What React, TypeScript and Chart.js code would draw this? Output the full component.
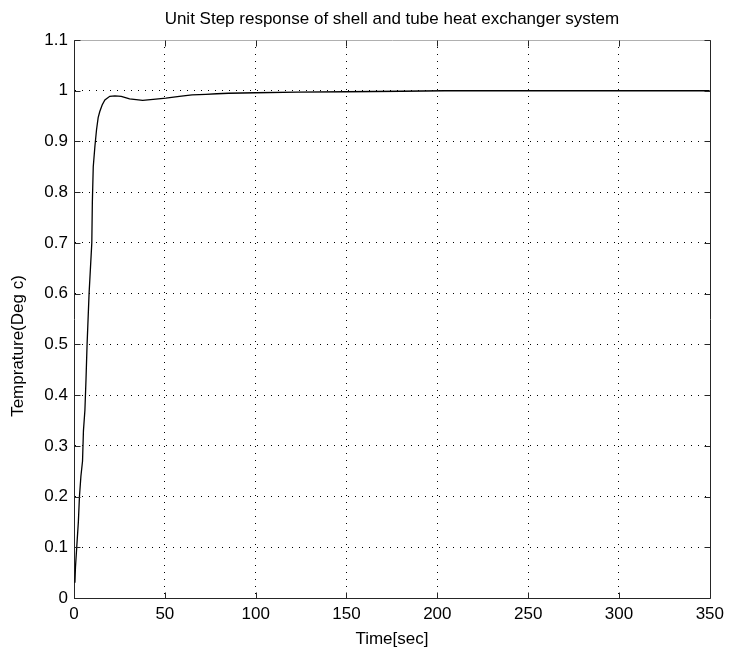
import React, { useEffect, useRef } from 'react';
import { Chart, registerables } from 'chart.js';

Chart.register(...registerables);

const chartTitle = 'Unit Step response of shell and tube heat exchanger system';
const xAxisTitle = 'Time[sec]';
const yAxisTitle = 'Temprature(Deg c)';

const xTickValues = [0, 50, 100, 150, 200, 250, 300, 350];
const xTickLabels = ['0', '50', '100', '150', '200', '250', '300', '350'];
const yTickValues = [0, 0.1, 0.2, 0.3, 0.4, 0.5, 0.6, 0.7, 0.8, 0.9, 1.0, 1.1];
const yTickLabels = ['0', '0.1', '0.2', '0.3', '0.4', '0.5', '0.6', '0.7', '0.8', '0.9', '1', '1.1'];

const timeSec = [
  0.5, 0.8, 1.5, 2.4, 3.0, 3.8, 4.7, 5.2, 6.0, 6.6, 7.2, 8.3, 9.8, 10.1, 10.6, 11.5,
  12.4, 13.3, 14.2, 15.5, 17.0, 19.7, 22.5, 26, 30.6, 37.8, 45, 50.6, 58, 65, 72.5,
  78.6, 85, 100, 123, 150, 180, 204, 350,
];
const temperature = [
  0.03, 0.06, 0.10, 0.15, 0.20, 0.24, 0.27, 0.33, 0.37, 0.43, 0.50, 0.60, 0.70, 0.78, 0.85, 0.89,
  0.923, 0.947, 0.959, 0.972, 0.982, 0.989, 0.990, 0.989, 0.984, 0.981, 0.9836, 0.9855, 0.989, 0.992, 0.993,
  0.994, 0.995, 0.996, 0.9974, 0.998, 0.999, 1.0, 1.0,
];

const FONT = '"Liberation Sans", Arial, Helvetica, sans-serif';
const FONT_SIZE = 17;
const AXIS_COLOR = '#262626';

const framePlugin = {
  id: 'matlabFrame',
  afterDraw(chart: any) {
    const { ctx, chartArea } = chart;
    const { left, right, top, bottom } = chartArea;
    const xs = chart.scales.x;
    const ys = chart.scales.y;
    const a = (v: number) => Math.round(v) + 0.5;
    ctx.save();
    ctx.lineWidth = 1;
    ctx.setLineDash([]);
    ctx.strokeStyle = '#b0b0b0';
    ctx.beginPath();
    ctx.moveTo(a(left), a(top));
    ctx.lineTo(a(right), a(top));
    ctx.stroke();
    ctx.strokeStyle = AXIS_COLOR;
    ctx.beginPath();
    ctx.moveTo(a(right), a(top));
    ctx.lineTo(a(right), a(bottom));
    ctx.stroke();
    const tl = 6;
    ctx.beginPath();
    xTickValues.forEach((v) => {
      const px = a(xs.getPixelForValue(v));
      ctx.moveTo(px, a(bottom));
      ctx.lineTo(px, a(bottom) - tl);
      ctx.moveTo(px, a(top));
      ctx.lineTo(px, a(top) + tl);
    });
    yTickValues.forEach((v) => {
      const py = a(ys.getPixelForValue(v));
      ctx.moveTo(a(left), py);
      ctx.lineTo(a(left) + tl, py);
      ctx.moveTo(a(right), py);
      ctx.lineTo(a(right) - tl, py);
    });
    ctx.stroke();
    ctx.fillStyle = '#000';
    ctx.font = `${FONT_SIZE}px ${FONT}`;
    ctx.textAlign = 'center';
    ctx.textBaseline = 'middle';
    const cx = (left + right) / 2;
    ctx.fillText(chartTitle, cx, 19);
    ctx.fillText(xAxisTitle, cx, 639);
    ctx.translate(18, 346);
    ctx.rotate(-Math.PI / 2);
    ctx.fillText(yAxisTitle, 0, 0);
    ctx.restore();
  },
};

export default function App() {
  const canvasRef = useRef<HTMLCanvasElement | null>(null);

  useEffect(() => {
    const canvas = canvasRef.current;
    if (!canvas) return;
    const points = timeSec.map((t, i) => ({ x: t, y: temperature[i] }));
    const chart = new Chart(canvas, {
      type: 'line',
      data: {
        datasets: [
          {
            data: points,
            borderColor: '#000',
            borderWidth: 1.3,
            pointRadius: 0,
            tension: 0,
            fill: false,
          },
        ],
      },
      options: {
        animation: false,
        responsive: false,
        maintainAspectRatio: false,
        layout: { padding: { left: 0, right: 15, top: 40, bottom: 0 } },
        plugins: {
          legend: { display: false },
          tooltip: { enabled: false },
          title: { display: false },
        },
        scales: {
          x: {
            type: 'linear',
            min: 0,
            max: 350,
            afterBuildTicks: (scale: any) => {
              scale.ticks = xTickValues.map((v) => ({ value: v }));
            },
            afterFit: (scale: any) => {
              scale.height = 55;
            },
            ticks: {
              color: '#000',
              font: { family: FONT, size: FONT_SIZE },
              padding: 6,
              maxRotation: 0,
              autoSkip: false,
              callback: (_v: any, i: number) => xTickLabels[i],
            },
            grid: {
              drawTicks: false,
              color: (c: any) =>
                c.tick && (c.tick.value === 0 || c.tick.value === 350) ? 'rgba(0,0,0,0)' : '#000',
              lineWidth: 1,
            },
            border: { display: true, color: AXIS_COLOR, width: 1, dash: [1, 6] as any },
          },
          y: {
            type: 'linear',
            min: 0,
            max: 1.1,
            afterBuildTicks: (scale: any) => {
              scale.ticks = yTickValues.map((v) => ({ value: v }));
            },
            afterFit: (scale: any) => {
              scale.width = 74;
            },
            ticks: {
              color: '#000',
              font: { family: FONT, size: FONT_SIZE },
              padding: 6,
              autoSkip: false,
              callback: (_v: any, i: number) => yTickLabels[i],
            },
            grid: {
              drawTicks: false,
              color: (c: any) =>
                c.tick && (c.tick.value < 1e-9 || c.tick.value > 1.05) ? 'rgba(0,0,0,0)' : '#000',
              lineWidth: 1,
            },
            border: { display: true, color: AXIS_COLOR, width: 1, dash: [1, 6] as any },
          },
        },
      } as any,
      plugins: [framePlugin],
    });
    return () => chart.destroy();
  }, []);

  return (
    <div style={{ position: 'absolute', left: 0, top: 0, width: 730, height: 653, background: '#fff' }}>
      <canvas ref={canvasRef} width={730} height={653} style={{ display: 'block', width: 730, height: 653 }} />
    </div>
  );
}
